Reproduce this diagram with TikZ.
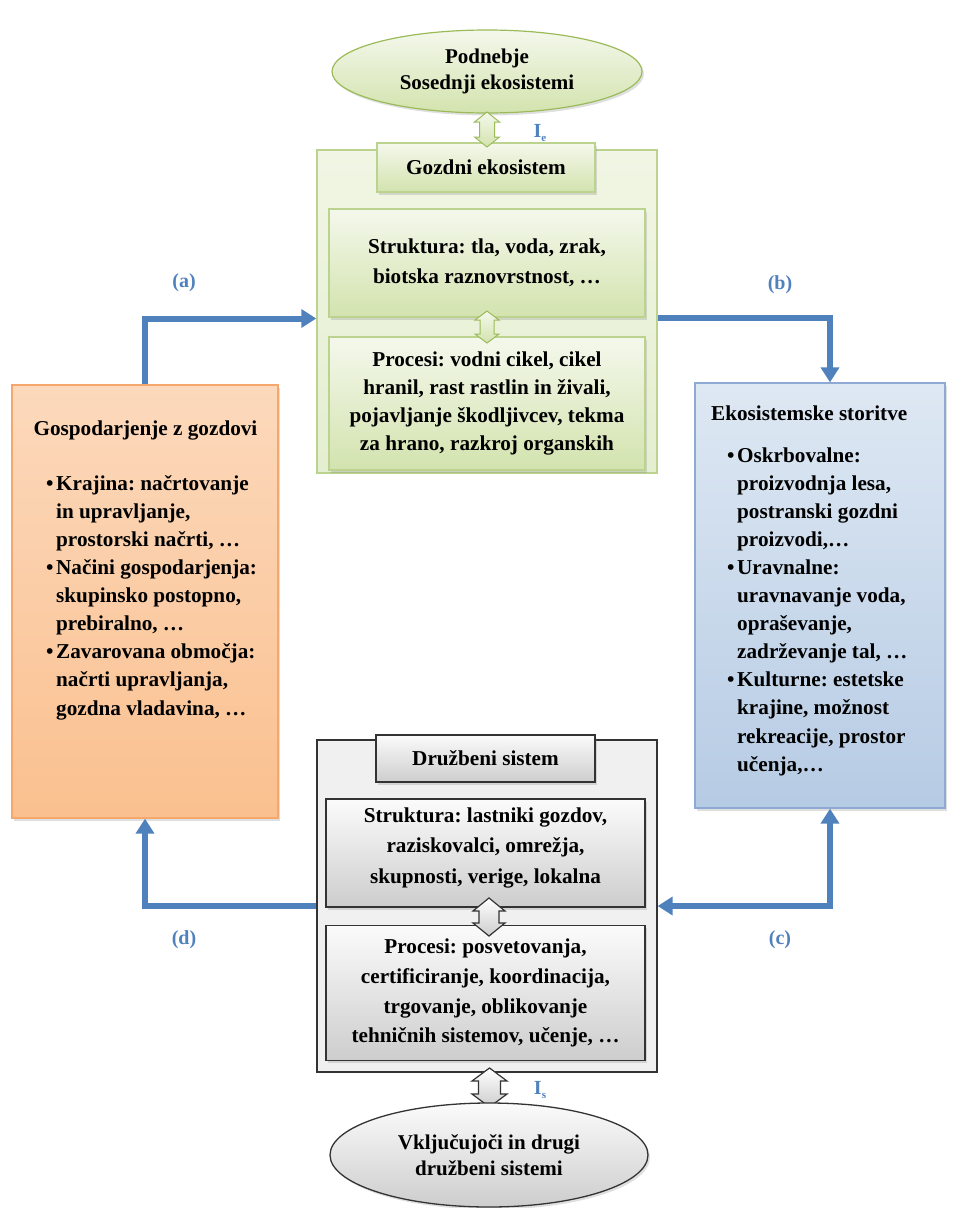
\documentclass[tikz,border=0pt]{standalone}
\usepackage{fontspec}
\setmainfont{Liberation Serif}
\usetikzlibrary{arrows.meta,shadows,shapes.geometric,calc}
\frenchspacing
\definecolor{arrB}{HTML}{4F81BD}
\definecolor{grnB}{HTML}{9BBB59}
\definecolor{grnL}{HTML}{BCD38F}
\definecolor{grnT}{HTML}{F4F8EC}
\definecolor{grnD}{HTML}{D3E3AE}
\definecolor{grnOT}{HTML}{F1F6E4}
\definecolor{grnOB}{HTML}{E4EED0}
\definecolor{orT}{HTML}{FCD9BC}
\definecolor{orB}{HTML}{FAC08F}
\definecolor{orD}{HTML}{F6A76C}
\definecolor{blT}{HTML}{DEE8F3}
\definecolor{blB}{HTML}{B6CBE4}
\definecolor{blD}{HTML}{8DA9D4}
\definecolor{gO}{HTML}{F0F0F0}
\definecolor{gD}{HTML}{333333}
\definecolor{gT}{HTML}{FBFBFB}
\definecolor{gB}{HTML}{CDCDCD}
\newcommand\bul{\makebox[10pt][l]{•}}
\newcommand\ind{\hspace*{10pt}}
\newcommand\vdarrow[7]{\path[#1] (#2,#3) -- ({#2+#6},{#3+#7}) -- ({#2+#5},{#3+#7}) -- ({#2+#5},{#4-#7}) -- ({#2+#6},{#4-#7}) -- (#2,#4) -- ({#2-#6},{#4-#7}) -- ({#2-#5},{#4-#7}) -- ({#2-#5},{#3+#7}) -- ({#2-#6},{#3+#7}) -- cycle;}
\tikzset{
  txt/.style={font=\bfseries\fontsize{21.2}{28}\selectfont, inner sep=0pt, text=black},
  shad/.style={drop shadow={shadow xshift=2pt, shadow yshift=-2.5pt, opacity=0.25}},
  gbox/.style={txt, draw=grnL, line width=1.2pt, top color=grnT, bottom color=grnD, shad, align=center},
  grbox/.style={txt, draw=gD, line width=1.3pt, top color=gT, bottom color=gB, shad, align=center},
  flow/.style={draw=arrB, line width=6pt, -{Triangle[length=15pt,width=18pt]}},
  lbl/.style={font=\bfseries\fontsize{20}{22}\selectfont, text=arrB, inner sep=0pt},
  garr/.style={draw=grnB, line width=1pt, top color=grnT, bottom color=grnD},
  grarr/.style={draw=gD, line width=1.2pt, top color=white, bottom color=gB},
}
\begin{document}
\begin{tikzpicture}[x=1pt,y=-1pt]
\useasboundingbox (0,0) rectangle (956,1208);
% top ellipse
\node[ellipse, txt, draw=grnB, line width=1.2pt, top color=grnT, bottom color=grnD, shad, minimum width=310pt, minimum height=83pt, align=center, font=\bfseries\fontsize{21}{25.5}\selectfont] (climate) at (487,71.5) {Podnebje\\Sosednji ekosistemi};
% green system
\node[draw=grnL, line width=1.5pt, top color=grnOT, bottom color=grnOB, minimum width=340pt, minimum height=323pt, inner sep=0pt] (greenout) at (487,311.5) {};
\node[gbox, minimum width=218pt, minimum height=49pt] (gtitle) at (486,167.5) {Gozdni ekosistem};
\node[gbox, minimum width=316pt, minimum height=108pt, font=\bfseries\fontsize{21.2}{30}\selectfont] (gstr) at (487,263) {Struktura: tla, voda, zrak,\\biotska raznovrstnost, …};
\node[gbox, minimum width=316pt, minimum height=133pt, font=\bfseries\fontsize{21.2}{27.7}\selectfont] (gproc) at (487,403.5) {Procesi: vodni cikel, cikel\\hranil, rast rastlin in živali,\\pojavljanje škodljivcev, tekma\\za hrano, razkroj organskih};
\vdarrow{garr}{487}{112}{147}{7.5}{12.5}{10}
\vdarrow{garr}{487}{311}{343}{7}{12}{9}
\node[font=\bfseries\fontsize{20}{20}\selectfont, text=arrB, inner sep=0pt] (ie) at (540,133) {I\raisebox{-4pt}{\fontsize{11}{11}\selectfont e}};
% orange
\node[draw=orD, line width=1.3pt, top color=orT, bottom color=orB, shad, minimum width=266pt, minimum height=433pt, inner sep=0pt] (orange) at (145,601.5) {};
\node[txt] (ortitle) at (145.5,430) {Gospodarjenje z gozdovi};
\node[txt, anchor=west, align=left, font=\bfseries\fontsize{21.2}{28.1}\selectfont] (orlist) at (46,597.5) {\bul Krajina: načrtovanje\\
\ind in upravljanje,\\
\ind prostorski načrti, …\\
\bul Načini gospodarjenja:\\
\ind skupinsko postopno,\\
\ind prebiralno, …\\
\bul Zavarovana območja:\\
\ind načrti upravljanja,\\
\ind gozdna vladavina, …};
% blue
\node[draw=blD, line width=1.3pt, top color=blT, bottom color=blB, shad, minimum width=250pt, minimum height=425pt, inner sep=0pt] (blue) at (820,595.5) {};
\node[txt, anchor=west] (bltitle) at (711,413) {Ekosistemske storitve};
\node[txt, anchor=west, align=left, font=\bfseries\fontsize{21.2}{28.1}\selectfont] (bllist) at (727,611.5) {\bul Oskrbovalne:\\
\ind proizvodnja lesa,\\
\ind postranski gozdni\\
\ind proizvodi,…\\
\bul Uravnalne:\\
\ind uravnavanje voda,\\
\ind opraševanje,\\
\ind zadrževanje tal, …\\
\bul Kulturne: estetske\\
\ind krajine, možnost\\
\ind rekreacije, prostor\\
\ind učenja,…};
% gray system
\node[draw=gD, line width=1.3pt, fill=gO, minimum width=340pt, minimum height=332pt, inner sep=0pt] (grayout) at (487,906) {};
\node[grbox, minimum width=219pt, minimum height=47pt] (grtitle) at (485.5,758.5) {Družbeni sistem};
\node[grbox, minimum width=319pt, minimum height=108pt] (grstr) at (485.5,853) {};
\node[txt, align=center, font=\bfseries\fontsize{21.2}{30.5}\selectfont] (grstrtxt) at (485.5,847.5) {Struktura: lastniki gozdov,\\raziskovalci, omrežja,\\skupnosti, verige, lokalna};
\node[grbox, minimum width=319pt, minimum height=135pt, font=\bfseries\fontsize{21.2}{29.8}\selectfont] (grproc) at (485.5,993) {Procesi: posvetovanja,\\certificiranje, koordinacija,\\trgovanje, oblikovanje\\tehničnih sistemov, učenje, …};
\vdarrow{grarr}{489}{898}{936}{10}{16}{13}
\vdarrow{grarr}{489.5}{1068}{1107}{11}{17.5}{13}
\node[font=\bfseries\fontsize{20}{20}\selectfont, text=arrB, inner sep=0pt] (is) at (540,1090) {I\raisebox{-4pt}{\fontsize{11}{11}\selectfont s}};
% bottom ellipse
\node[ellipse, txt, draw=gD, line width=1.3pt, top color=gT, bottom color=gB, shad, minimum width=318pt, minimum height=104pt, align=center, font=\bfseries\fontsize{21}{26.5}\selectfont] (social) at (489,1155) {Vključujoči in drugi\\družbeni sistemi};
% flows
\draw[flow] (orange.north) |- ([yshift=-7pt]greenout.west);
\draw[flow] ([yshift=-6pt]greenout.east) -| ([xshift=10pt]blue.north);
\draw[flow, {Triangle[length=15pt,width=18pt]}-{Triangle[length=15pt,width=18pt]}] (grayout.east) -| ([xshift=10pt]blue.south);
\draw[flow] (grayout.west) -| (orange.south);
\node[lbl] (la) at (184,283) {(a)};
\node[lbl] (lb) at (780,285) {(b)};
\node[lbl] (lc) at (780,940) {(c)};
\node[lbl] (ld) at (184,940) {(d)};
\end{tikzpicture}
\end{document}
